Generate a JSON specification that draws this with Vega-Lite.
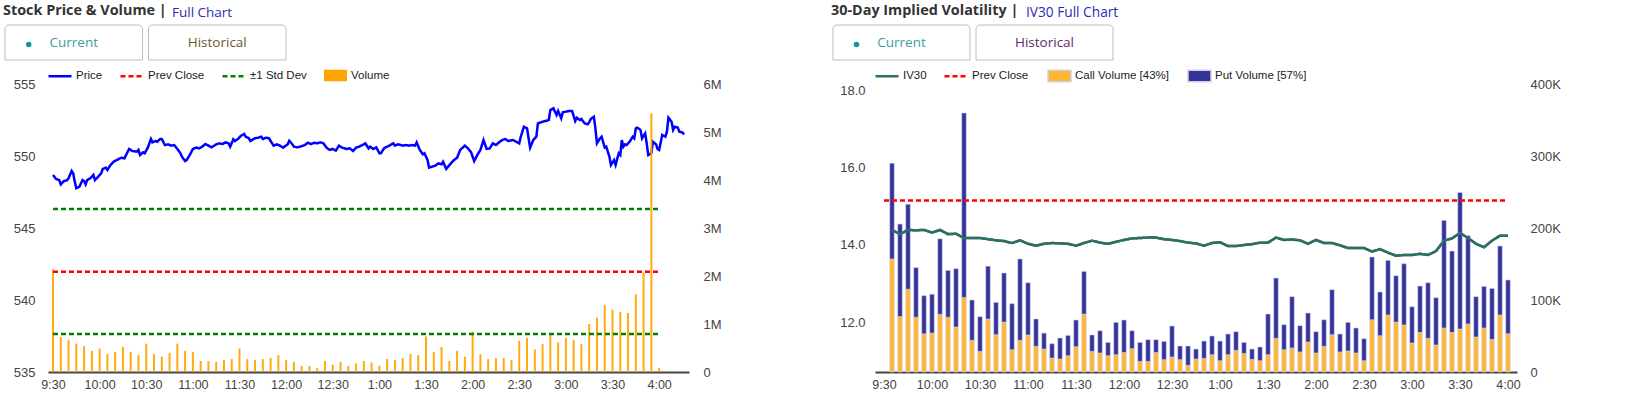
{
"$schema":"https://vega.github.io/schema/vega-lite/v6.json",
"background":"white",
"padding":{"left":3,"top":3,"right":5,"bottom":4},
"config":{
 "view":{"stroke":null},
 "font":"Liberation Sans",
 "axis":{"grid":false,"ticks":false,"domain":false,"labelFont":"Liberation Sans","labelFontSize":13,"labelColor":"#444"},
 "legend":{"direction":"horizontal","symbolSize":529,"labelFont":"Liberation Sans","labelFontSize":11.5,"labelColor":"#222","padding":0}
},
"datasets":{
 "tabs":[{"tab":"Current"},{"tab":"Historical"}],
 "volL":[{"t":"09:30","v":2140000},{"t":"09:35","v":730000},{"t":"09:40","v":670000},{"t":"09:45","v":590000},{"t":"09:50","v":540000},{"t":"09:55","v":440000},{"t":"10:00","v":490000},{"t":"10:05","v":375000},{"t":"10:10","v":420000},{"t":"10:15","v":520000},{"t":"10:20","v":420000},{"t":"10:25","v":350000},{"t":"10:30","v":590000},{"t":"10:35","v":375000},{"t":"10:40","v":320000},{"t":"10:45","v":400000},{"t":"10:50","v":590000},{"t":"10:55","v":440000},{"t":"11:00","v":420000},{"t":"11:05","v":230000},{"t":"11:10","v":230000},{"t":"11:15","v":210000},{"t":"11:20","v":250000},{"t":"11:25","v":270000},{"t":"11:30","v":490000},{"t":"11:35","v":270000},{"t":"11:40","v":250000},{"t":"11:45","v":270000},{"t":"11:50","v":290000},{"t":"11:55","v":350000},{"t":"12:00","v":250000},{"t":"12:05","v":210000},{"t":"12:10","v":125000},{"t":"12:15","v":125000},{"t":"12:20","v":80000},{"t":"12:25","v":230000},{"t":"12:30","v":150000},{"t":"12:35","v":210000},{"t":"12:40","v":125000},{"t":"12:45","v":180000},{"t":"12:50","v":230000},{"t":"12:55","v":200000},{"t":"13:00","v":130000},{"t":"13:05","v":270000},{"t":"13:10","v":250000},{"t":"13:15","v":290000},{"t":"13:20","v":375000},{"t":"13:25","v":350000},{"t":"13:30","v":740000},{"t":"13:35","v":420000},{"t":"13:40","v":520000},{"t":"13:45","v":230000},{"t":"13:50","v":440000},{"t":"13:55","v":320000},{"t":"14:00","v":840000},{"t":"14:05","v":370000},{"t":"14:10","v":270000},{"t":"14:15","v":290000},{"t":"14:20","v":290000},{"t":"14:25","v":250000},{"t":"14:30","v":650000},{"t":"14:35","v":710000},{"t":"14:40","v":470000},{"t":"14:45","v":580000},{"t":"14:50","v":800000},{"t":"14:55","v":620000},{"t":"15:00","v":710000},{"t":"15:05","v":670000},{"t":"15:10","v":580000},{"t":"15:15","v":1000000},{"t":"15:20","v":1130000},{"t":"15:25","v":1400000},{"t":"15:30","v":1300000},{"t":"15:35","v":1250000},{"t":"15:40","v":1230000},{"t":"15:45","v":1620000},{"t":"15:50","v":2070000},{"t":"15:55","v":5390000},{"t":"16:00","v":80000}],
 "priceL":[{"t":"09:30","p":548.68},{"t":"09:32","p":548.40},{"t":"09:34","p":548.33},{"t":"09:35","p":548.03},{"t":"09:37","p":548.26},{"t":"09:39","p":548.31},{"t":"09:40","p":548.45},{"t":"09:42","p":548.96},{"t":"09:43","p":548.80},{"t":"09:44","p":548.22},{"t":"09:45","p":547.76},{"t":"09:47","p":547.87},{"t":"09:49","p":548.33},{"t":"09:50","p":548.26},{"t":"09:51","p":548.03},{"t":"09:52","p":548.33},{"t":"09:54","p":548.45},{"t":"09:56","p":548.68},{"t":"09:57","p":548.33},{"t":"09:59","p":548.56},{"t":"10:01","p":548.80},{"t":"10:02","p":549.10},{"t":"10:04","p":549.19},{"t":"10:05","p":549.03},{"t":"10:07","p":549.38},{"t":"10:09","p":549.60},{"t":"10:11","p":549.72},{"t":"10:14","p":549.88},{"t":"10:16","p":549.84},{"t":"10:17","p":550.07},{"t":"10:19","p":550.49},{"t":"10:21","p":550.35},{"t":"10:24","p":550.30},{"t":"10:25","p":550.42},{"t":"10:26","p":550.07},{"t":"10:28","p":550.26},{"t":"10:29","p":550.19},{"t":"10:31","p":550.58},{"t":"10:33","p":551.18},{"t":"10:34","p":550.95},{"t":"10:36","p":551.04},{"t":"10:37","p":550.99},{"t":"10:39","p":551.18},{"t":"10:40","p":551.18},{"t":"10:42","p":550.76},{"t":"10:44","p":550.81},{"t":"10:46","p":550.72},{"t":"10:48","p":550.76},{"t":"10:50","p":550.49},{"t":"10:52","p":550.19},{"t":"10:53","p":549.95},{"t":"10:55","p":549.65},{"t":"10:56","p":549.72},{"t":"10:58","p":550.07},{"t":"11:00","p":550.49},{"t":"11:02","p":550.58},{"t":"11:04","p":550.53},{"t":"11:06","p":550.65},{"t":"11:08","p":550.83},{"t":"11:10","p":550.72},{"t":"11:12","p":550.60},{"t":"11:15","p":550.81},{"t":"11:17","p":550.88},{"t":"11:19","p":550.83},{"t":"11:21","p":550.95},{"t":"11:23","p":550.88},{"t":"11:24","p":550.65},{"t":"11:26","p":551.16},{"t":"11:27","p":551.04},{"t":"11:29","p":551.18},{"t":"11:31","p":551.41},{"t":"11:33","p":551.53},{"t":"11:34","p":551.34},{"t":"11:36","p":551.23},{"t":"11:37","p":551.04},{"t":"11:40","p":551.23},{"t":"11:42","p":551.27},{"t":"11:44","p":551.34},{"t":"11:45","p":551.18},{"t":"11:47","p":551.27},{"t":"11:49","p":551.23},{"t":"11:50","p":551.04},{"t":"11:52","p":550.72},{"t":"11:54","p":550.81},{"t":"11:56","p":550.72},{"t":"11:58","p":550.58},{"t":"12:01","p":550.81},{"t":"12:02","p":551.06},{"t":"12:04","p":550.81},{"t":"12:05","p":550.65},{"t":"12:07","p":550.60},{"t":"12:09","p":550.65},{"t":"12:12","p":550.76},{"t":"12:14","p":550.92},{"t":"12:16","p":550.83},{"t":"12:18","p":550.92},{"t":"12:20","p":550.88},{"t":"12:22","p":550.95},{"t":"12:24","p":550.88},{"t":"12:26","p":550.58},{"t":"12:28","p":550.42},{"t":"12:30","p":550.49},{"t":"12:32","p":550.37},{"t":"12:34","p":550.72},{"t":"12:36","p":550.58},{"t":"12:39","p":550.49},{"t":"12:41","p":550.53},{"t":"12:43","p":550.35},{"t":"12:45","p":550.58},{"t":"12:47","p":550.65},{"t":"12:49","p":550.76},{"t":"12:51","p":550.88},{"t":"12:53","p":550.53},{"t":"12:54","p":550.65},{"t":"12:56","p":550.49},{"t":"12:58","p":550.60},{"t":"13:00","p":550.19},{"t":"13:01","p":550.19},{"t":"13:03","p":550.53},{"t":"13:05","p":550.65},{"t":"13:07","p":550.76},{"t":"13:09","p":550.88},{"t":"13:10","p":550.72},{"t":"13:12","p":550.81},{"t":"13:15","p":550.72},{"t":"13:17","p":550.76},{"t":"13:19","p":550.72},{"t":"13:21","p":550.76},{"t":"13:23","p":550.72},{"t":"13:24","p":550.95},{"t":"13:26","p":550.42},{"t":"13:28","p":550.12},{"t":"13:29","p":550.19},{"t":"13:31","p":549.72},{"t":"13:32","p":549.19},{"t":"13:34","p":549.26},{"t":"13:36","p":549.33},{"t":"13:38","p":549.49},{"t":"13:40","p":549.42},{"t":"13:41","p":549.60},{"t":"13:43","p":549.10},{"t":"13:46","p":549.49},{"t":"13:48","p":549.72},{"t":"13:50","p":549.88},{"t":"13:52","p":550.42},{"t":"13:55","p":550.72},{"t":"13:57","p":550.53},{"t":"13:59","p":550.26},{"t":"14:01","p":549.65},{"t":"14:03","p":550.07},{"t":"14:05","p":550.42},{"t":"14:07","p":551.11},{"t":"14:09","p":550.49},{"t":"14:11","p":550.53},{"t":"14:13","p":550.88},{"t":"14:15","p":550.76},{"t":"14:17","p":550.95},{"t":"14:19","p":551.11},{"t":"14:21","p":551.18},{"t":"14:23","p":551.04},{"t":"14:26","p":551.11},{"t":"14:28","p":550.99},{"t":"14:30","p":550.88},{"t":"14:31","p":551.34},{"t":"14:33","p":552.03},{"t":"14:35","p":551.92},{"t":"14:36","p":551.23},{"t":"14:37","p":550.58},{"t":"14:39","p":551.11},{"t":"14:41","p":551.34},{"t":"14:42","p":552.27},{"t":"14:45","p":552.38},{"t":"14:47","p":552.43},{"t":"14:49","p":552.50},{"t":"14:50","p":553.19},{"t":"14:52","p":553.31},{"t":"14:54","p":552.85},{"t":"14:55","p":553.13},{"t":"14:57","p":552.62},{"t":"14:58","p":553.03},{"t":"15:00","p":553.08},{"t":"15:02","p":553.13},{"t":"15:04","p":553.13},{"t":"15:06","p":552.43},{"t":"15:07","p":552.66},{"t":"15:09","p":552.50},{"t":"15:10","p":552.57},{"t":"15:12","p":552.27},{"t":"15:14","p":552.20},{"t":"15:15","p":552.34},{"t":"15:16","p":552.57},{"t":"15:18","p":552.73},{"t":"15:19","p":551.92},{"t":"15:20","p":550.88},{"t":"15:22","p":551.23},{"t":"15:23","p":551.34},{"t":"15:25","p":550.58},{"t":"15:26","p":550.65},{"t":"15:28","p":549.95},{"t":"15:29","p":549.38},{"t":"15:31","p":549.72},{"t":"15:32","p":549.38},{"t":"15:34","p":550.19},{"t":"15:35","p":550.07},{"t":"15:36","p":551.11},{"t":"15:37","p":550.65},{"t":"15:38","p":550.81},{"t":"15:39","p":550.76},{"t":"15:41","p":550.99},{"t":"15:43","p":551.34},{"t":"15:44","p":551.23},{"t":"15:45","p":551.92},{"t":"15:46","p":551.97},{"t":"15:48","p":551.81},{"t":"15:49","p":551.23},{"t":"15:51","p":551.57},{"t":"15:52","p":550.88},{"t":"15:53","p":550.07},{"t":"15:55","p":550.19},{"t":"15:56","p":550.99},{"t":"15:58","p":550.81},{"t":"15:59","p":550.49},{"t":"16:00","p":550.42},{"t":"16:02","p":551.46},{"t":"16:04","p":551.34},{"t":"16:05","p":551.69},{"t":"16:06","p":552.66},{"t":"16:08","p":552.38},{"t":"16:09","p":551.81},{"t":"16:10","p":552.03},{"t":"16:12","p":551.97},{"t":"16:13","p":551.69},{"t":"16:15","p":551.64},{"t":"16:16","p":551.50}],
 "linesL":[{"s":"Prev Close","v":541.97,"t0":"09:30","t1":"16:00"},{"s":"±1 Std Dev","v":546.32,"t0":"09:30","t1":"16:00"},{"s":"±1 Std Dev","v":537.64,"t0":"09:30","t1":"16:00"}],
 "ivR":[{"t":"09:35","iv":14.39,"Call":157000,"Put":133000},{"t":"09:40","iv":14.28,"Call":77000,"Put":128500},{"t":"09:45","iv":14.39,"Call":115000,"Put":118000},{"t":"09:50","iv":14.38,"Call":76000,"Put":69000},{"t":"09:55","iv":14.39,"Call":53000,"Put":53000},{"t":"10:00","iv":14.32,"Call":54000,"Put":54000},{"t":"10:05","iv":14.39,"Call":80000,"Put":105000},{"t":"10:10","iv":14.28,"Call":76000,"Put":65000},{"t":"10:15","iv":14.29,"Call":62500,"Put":81000},{"t":"10:20","iv":14.18,"Call":103600,"Put":256100},{"t":"10:25","iv":14.18,"Call":44000,"Put":56000},{"t":"10:30","iv":14.18,"Call":28600,"Put":48200},{"t":"10:35","iv":14.15,"Call":73600,"Put":73400},{"t":"10:40","iv":14.12,"Call":51800,"Put":44900},{"t":"10:45","iv":14.10,"Call":69400,"Put":68100},{"t":"10:50","iv":14.05,"Call":31000,"Put":63900},{"t":"10:55","iv":14.12,"Call":44000,"Put":113000},{"t":"11:00","iv":14.03,"Call":51400,"Put":72600},{"t":"11:05","iv":13.98,"Call":35600,"Put":38000},{"t":"11:10","iv":14.03,"Call":31900,"Put":22100},{"t":"11:15","iv":14.05,"Call":19400,"Put":19900},{"t":"11:20","iv":14.04,"Call":18000,"Put":29200},{"t":"11:25","iv":14.03,"Call":22600,"Put":28200},{"t":"11:30","iv":13.98,"Call":35100,"Put":37100},{"t":"11:35","iv":14.05,"Call":80500,"Put":59200},{"t":"11:40","iv":14.11,"Call":28600,"Put":22800},{"t":"11:45","iv":14.06,"Call":26400,"Put":31000},{"t":"11:50","iv":14.03,"Call":22600,"Put":18500},{"t":"11:55","iv":14.08,"Call":24000,"Put":44900},{"t":"12:00","iv":14.13,"Call":27200,"Put":45000},{"t":"12:05","iv":14.17,"Call":32400,"Put":25000},{"t":"12:10","iv":14.18,"Call":14700,"Put":26400},{"t":"12:15","iv":14.19,"Call":14700,"Put":30200},{"t":"12:20","iv":14.19,"Call":27200,"Put":17700},{"t":"12:25","iv":14.15,"Call":17100,"Put":25400},{"t":"12:30","iv":14.13,"Call":20800,"Put":43100},{"t":"12:35","iv":14.10,"Call":17100,"Put":19000},{"t":"12:40","iv":14.06,"Call":9300,"Put":26800},{"t":"12:45","iv":14.04,"Call":18000,"Put":13900},{"t":"12:50","iv":13.98,"Call":18900,"Put":24100},{"t":"12:55","iv":14.05,"Call":24000,"Put":26000},{"t":"13:00","iv":14.07,"Call":15700,"Put":27300},{"t":"13:05","iv":13.97,"Call":24000,"Put":28800},{"t":"13:10","iv":13.97,"Call":30000,"Put":26000},{"t":"13:15","iv":14.00,"Call":25800,"Put":15300},{"t":"13:20","iv":14.02,"Call":17500,"Put":14400},{"t":"13:25","iv":14.06,"Call":15700,"Put":19000},{"t":"13:30","iv":14.06,"Call":24000,"Put":56500},{"t":"13:35","iv":14.19,"Call":46700,"Put":83800},{"t":"13:40","iv":14.13,"Call":31000,"Put":34700},{"t":"13:45","iv":14.14,"Call":33300,"Put":71300},{"t":"13:50","iv":14.12,"Call":27800,"Put":36500},{"t":"13:55","iv":14.03,"Call":41700,"Put":40200},{"t":"14:00","iv":14.13,"Call":26400,"Put":29600},{"t":"14:05","iv":14.05,"Call":35600,"Put":37000},{"t":"14:10","iv":14.05,"Call":51800,"Put":62500},{"t":"14:15","iv":13.99,"Call":27800,"Put":25000},{"t":"14:20","iv":13.92,"Call":29200,"Put":39700},{"t":"14:25","iv":13.92,"Call":26400,"Put":34700},{"t":"14:30","iv":13.92,"Call":15700,"Put":30600},{"t":"14:35","iv":13.83,"Call":72600,"Put":87100},{"t":"14:40","iv":13.89,"Call":50400,"Put":60700},{"t":"14:45","iv":13.80,"Call":79200,"Put":75800},{"t":"14:50","iv":13.72,"Call":69400,"Put":64300},{"t":"14:55","iv":13.74,"Call":65300,"Put":85100},{"t":"15:00","iv":13.74,"Call":40300,"Put":50400},{"t":"15:05","iv":13.77,"Call":55000,"Put":64400},{"t":"15:10","iv":13.74,"Call":46700,"Put":77300},{"t":"15:15","iv":13.84,"Call":37500,"Put":65700},{"t":"15:20","iv":14.11,"Call":61100,"Put":149500},{"t":"15:25","iv":14.17,"Call":55000,"Put":113000},{"t":"15:30","iv":14.31,"Call":59700,"Put":189700},{"t":"15:35","iv":14.18,"Call":66700,"Put":122600},{"t":"15:40","iv":14.03,"Call":48600,"Put":56000},{"t":"15:45","iv":13.94,"Call":61100,"Put":57800},{"t":"15:50","iv":14.11,"Call":45300,"Put":70800},{"t":"15:55","iv":14.24,"Call":79200,"Put":95800},{"t":"16:00","iv":14.24,"Call":53200,"Put":74600}],
 "linesR":[{"s":"Prev Close","v":15.15,"t0":"09:30","t1":"16:00"}]
},
"columns":2,
"spacing":{"row":24,"column":186},
"bounds":"flush",
"resolve":{"scale":{"color":"independent","fill":"independent","strokeDash":"independent"},"legend":{"color":"independent","fill":"independent","strokeDash":"independent"}},
"concat":[
 {
  "width":200,"height":35,
  "data":{"name":"tabs"},
  "title":{"text":"Stock Price & Volume |","anchor":"start","frame":"group","baseline":"alphabetic","font":"Open Sans","fontSize":14.4,"fontWeight":"bold","color":"#333333","dx":-45,"offset":-5},
  "encoding":{"x":{"field":"tab","type":"nominal","sort":null,"axis":null,"scale":{"range":[-43,238],"paddingInner":0.042,"paddingOuter":0}}},
  "layer":[
   {"mark":{"type":"rect","fill":"white","stroke":"#bdbdbd","strokeWidth":1,"cornerRadiusTopLeft":4,"cornerRadiusTopRight":4}},
   {"transform":[{"filter":"datum.tab === 'Current'"}],"mark":{"type":"text","font":"Open Sans","fontSize":13.5,"baseline":"middle","fill":"#3a9e9e"},"encoding":{"text":{"field":"tab"}}},
   {"transform":[{"filter":"datum.tab === 'Historical'"}],"mark":{"type":"text","font":"Open Sans","fontSize":13.5,"baseline":"middle","fill":"#6b5a2a"},"encoding":{"text":{"field":"tab"}}},
   {"transform":[{"filter":"datum.tab === 'Current'"}],"mark":{"type":"point","filled":true,"size":30,"color":"#149696","opacity":1,"xOffset":-45,"yOffset":2}}
  ]
 },
 {
  "width":200,"height":35,
  "data":{"name":"tabs"},
  "title":{"text":"30-Day Implied Volatility |","anchor":"start","frame":"group","baseline":"alphabetic","font":"Open Sans","fontSize":14.4,"fontWeight":"bold","color":"#333333","dx":-44,"offset":-5},
  "encoding":{"x":{"field":"tab","type":"nominal","sort":null,"axis":null,"scale":{"range":[-42,238],"paddingInner":0.042,"paddingOuter":0}}},
  "layer":[
   {"mark":{"type":"rect","fill":"white","stroke":"#bdbdbd","strokeWidth":1,"cornerRadiusTopLeft":4,"cornerRadiusTopRight":4}},
   {"transform":[{"filter":"datum.tab === 'Current'"}],"mark":{"type":"text","font":"Open Sans","fontSize":13.5,"baseline":"middle","fill":"#3a9e9e"},"encoding":{"text":{"field":"tab"}}},
   {"transform":[{"filter":"datum.tab === 'Historical'"}],"mark":{"type":"text","font":"Open Sans","fontSize":13.5,"baseline":"middle","fill":"#5e2a6b"},"encoding":{"text":{"field":"tab"}}},
   {"transform":[{"filter":"datum.tab === 'Current'"}],"mark":{"type":"point","filled":true,"size":30,"color":"#149696","opacity":1,"xOffset":-45,"yOffset":2}}
  ]
 },
 {
  "width":641,"height":288,
  "title":{"text":"Full Chart","anchor":"start","frame":"group","baseline":"alphabetic","font":"Open Sans","fontSize":13.5,"fontWeight":"normal","color":"#2a2ab5","dx":124,"dy":-32.5,"offset":0},
  "resolve":{"scale":{"y":"independent"}},
  "layer":[
   {
    "data":{"name":"priceL","format":{"parse":{"t":"date:'%H:%M'"}}},
    "mark":{"type":"line","strokeWidth":2.5},
    "encoding":{
     "x":{"field":"t","type":"temporal","scale":{"domain":[{"year":1900,"month":1,"date":1,"hours":9,"minutes":30},{"year":1900,"month":1,"date":1,"hours":16,"minutes":16}],"nice":false},
          "axis":{"title":null,"format":"%-I:%M","labelFontSize":12.5,"values":[{"year":1900,"month":1,"date":1,"hours":9,"minutes":30},{"year":1900,"month":1,"date":1,"hours":10,"minutes":0},{"year":1900,"month":1,"date":1,"hours":10,"minutes":30},{"year":1900,"month":1,"date":1,"hours":11,"minutes":0},{"year":1900,"month":1,"date":1,"hours":11,"minutes":30},{"year":1900,"month":1,"date":1,"hours":12,"minutes":0},{"year":1900,"month":1,"date":1,"hours":12,"minutes":30},{"year":1900,"month":1,"date":1,"hours":13,"minutes":0},{"year":1900,"month":1,"date":1,"hours":13,"minutes":30},{"year":1900,"month":1,"date":1,"hours":14,"minutes":0},{"year":1900,"month":1,"date":1,"hours":14,"minutes":30},{"year":1900,"month":1,"date":1,"hours":15,"minutes":0},{"year":1900,"month":1,"date":1,"hours":15,"minutes":30},{"year":1900,"month":1,"date":1,"hours":16,"minutes":0}],"domain":true,"domainColor":"#444","domainWidth":2,"labelPadding":6,"labelFlush":false,"labelOverlap":false}},
     "y":{"field":"p","type":"quantitative","scale":{"domain":[535,555],"nice":false,"zero":false},"axis":{"title":null,"orient":"left","values":[535,540,545,550,555],"labelPadding":13}},
     "color":{"datum":"Price","scale":{"domain":["Price","Prev Close","±1 Std Dev"],"range":["#0000ff","#ff0000","#008000"]},"legend":{"title":null,"orient":"none","legendX":-1,"legendY":-21,"symbolType":"stroke","symbolStrokeWidth":2.5,"labelOffset":3,"columnPadding":12}},
     "strokeDash":{"datum":"Price","scale":{"domain":["Price","Prev Close","±1 Std Dev"],"range":[[1,0],[5,3],[5,3]]},"legend":{"title":null,"orient":"none","legendX":-1,"legendY":-21,"symbolType":"stroke","symbolStrokeWidth":2.5,"labelOffset":3,"columnPadding":12}}
    }
   },
   {
    "data":{"name":"volL","format":{"parse":{"t":"date:'%H:%M'"}}},
    "mark":{"type":"bar","width":2,"opacity":0.95},
    "encoding":{
     "x":{"field":"t","type":"temporal"},
     "y":{"field":"v","type":"quantitative","scale":{"domain":[0,6000000],"nice":false},"axis":{"title":null,"orient":"right","values":[0,1000000,2000000,3000000,4000000,5000000,6000000],"labelExpr":"datum.value === 0 ? '0' : (datum.value/1000000) + 'M'","labelPadding":14}},
     "fill":{"datum":"Volume","scale":{"domain":["Volume"],"range":["#ffa500"]},"legend":{"title":null,"orient":"none","legendX":275,"legendY":-21,"symbolType":"M-1,-0.5H1V0.5H-1Z","symbolOpacity":1,"labelOffset":3}}
    }
   },
   {
    "data":{"name":"linesL","format":{"parse":{"t0":"date:'%H:%M'","t1":"date:'%H:%M'"}}},
    "mark":{"type":"rule","strokeWidth":2.5},
    "encoding":{
     "x":{"field":"t0","type":"temporal"},
     "x2":{"field":"t1"},
     "y":{"field":"v","type":"quantitative","scale":{"domain":[535,555],"nice":false,"zero":false},"axis":null},
     "color":{"field":"s","type":"nominal","legend":{"title":null,"orient":"none","legendX":-1,"legendY":-21,"symbolType":"stroke","symbolStrokeWidth":2.5,"labelOffset":3,"columnPadding":12}},
     "strokeDash":{"field":"s","type":"nominal","legend":{"title":null,"orient":"none","legendX":-1,"legendY":-21,"symbolType":"stroke","symbolStrokeWidth":2.5,"labelOffset":3,"columnPadding":12}}
    }
   }
  ]
 },
 {
  "width":642,"height":288,
  "title":{"text":"IV30 Full Chart","anchor":"start","frame":"group","baseline":"alphabetic","font":"Open Sans","fontSize":13.7,"fontWeight":"normal","color":"#2a2ab5","dx":151,"dy":-32.5,"offset":0},
  "resolve":{"scale":{"y":"independent"}},
  "data":{"name":"ivR","format":{"parse":{"t":"date:'%H:%M'"}}},
  "layer":[
   {
    "mark":{"type":"line","strokeWidth":2.5},
    "encoding":{
     "x":{"field":"t","type":"temporal","scale":{"domain":[{"year":1900,"month":1,"date":1,"hours":9,"minutes":27,"seconds":30},{"year":1900,"month":1,"date":1,"hours":16,"minutes":2,"seconds":30}],"nice":false},
          "axis":{"title":null,"format":"%-I:%M","labelFontSize":12.5,"values":[{"year":1900,"month":1,"date":1,"hours":9,"minutes":30},{"year":1900,"month":1,"date":1,"hours":10,"minutes":0},{"year":1900,"month":1,"date":1,"hours":10,"minutes":30},{"year":1900,"month":1,"date":1,"hours":11,"minutes":0},{"year":1900,"month":1,"date":1,"hours":11,"minutes":30},{"year":1900,"month":1,"date":1,"hours":12,"minutes":0},{"year":1900,"month":1,"date":1,"hours":12,"minutes":30},{"year":1900,"month":1,"date":1,"hours":13,"minutes":0},{"year":1900,"month":1,"date":1,"hours":13,"minutes":30},{"year":1900,"month":1,"date":1,"hours":14,"minutes":0},{"year":1900,"month":1,"date":1,"hours":14,"minutes":30},{"year":1900,"month":1,"date":1,"hours":15,"minutes":0},{"year":1900,"month":1,"date":1,"hours":15,"minutes":30},{"year":1900,"month":1,"date":1,"hours":16,"minutes":0}],"domain":true,"domainColor":"#444","domainWidth":2,"labelPadding":6,"labelFlush":false,"labelOverlap":false}},
     "y":{"field":"iv","type":"quantitative","scale":{"domain":[10.705,18.174],"nice":false,"zero":false},"axis":{"title":null,"orient":"left","values":[12,14,16,18],"format":".1f","labelPadding":10}},
     "color":{"datum":"IV30","scale":{"domain":["IV30","Prev Close"],"range":["#2f6e64","#ff0000"]},"legend":{"title":null,"orient":"none","legendX":-1,"legendY":-21,"symbolType":"stroke","symbolStrokeWidth":2.5,"labelOffset":3,"columnPadding":12}},
     "strokeDash":{"datum":"IV30","scale":{"domain":["IV30","Prev Close"],"range":[[1,0],[5,3]]},"legend":{"title":null,"orient":"none","legendX":-1,"legendY":-21,"symbolType":"stroke","symbolStrokeWidth":2.5,"labelOffset":3,"columnPadding":12}}
    }
   },
   {
    "transform":[{"fold":["Call","Put"],"as":["series","vol"]}],
    "mark":{"type":"bar","width":4.5,"stroke":"#cfcfea","strokeWidth":0.6},
    "encoding":{
     "x":{"field":"t","type":"temporal"},
     "y":{"field":"vol","type":"quantitative","stack":"zero","scale":{"domain":[0,400000],"nice":false},"axis":{"title":null,"orient":"right","values":[0,100000,200000,300000,400000],"labelExpr":"datum.value === 0 ? '0' : (datum.value/1000) + 'K'","labelPadding":13}},
     "fill":{"field":"series","type":"nominal","scale":{"domain":["Call","Put"],"range":["#ffb733","#333399"]},"legend":{"title":null,"orient":"none","legendX":172,"legendY":-21,"symbolType":"M-1,-0.5H1V0.5H-1Z","symbolOpacity":1,"labelOffset":3,"columnPadding":16,"labelExpr":"datum.label === 'Call' ? 'Call Volume [43%]' : 'Put Volume [57%]'"}},
     "order":{"field":"series","sort":"ascending"}
    }
   },
   {
    "data":{"name":"linesR","format":{"parse":{"t0":"date:'%H:%M'","t1":"date:'%H:%M'"}}},
    "mark":{"type":"rule","strokeWidth":2.5},
    "encoding":{
     "x":{"field":"t0","type":"temporal"},
     "x2":{"field":"t1"},
     "y":{"field":"v","type":"quantitative","scale":{"domain":[10.705,18.174],"nice":false,"zero":false},"axis":null},
     "color":{"field":"s","type":"nominal","legend":{"title":null,"orient":"none","legendX":-1,"legendY":-21,"symbolType":"stroke","symbolStrokeWidth":2.5,"labelOffset":3,"columnPadding":12}},
     "strokeDash":{"field":"s","type":"nominal","legend":{"title":null,"orient":"none","legendX":-1,"legendY":-21,"symbolType":"stroke","symbolStrokeWidth":2.5,"labelOffset":3,"columnPadding":12}}
    }
   },
   {
    "mark":{"type":"line","strokeWidth":2.5},
    "encoding":{
     "x":{"field":"t","type":"temporal"},
     "y":{"field":"iv","type":"quantitative","scale":{"domain":[10.705,18.174],"nice":false,"zero":false},"axis":null},
     "color":{"datum":"IV30","legend":{"title":null,"orient":"none","legendX":-1,"legendY":-21,"symbolType":"stroke","symbolStrokeWidth":2.5,"labelOffset":3,"columnPadding":12}},
     "strokeDash":{"datum":"IV30","legend":{"title":null,"orient":"none","legendX":-1,"legendY":-21,"symbolType":"stroke","symbolStrokeWidth":2.5,"labelOffset":3,"columnPadding":12}}
    }
   }
  ]
 }
]
}
